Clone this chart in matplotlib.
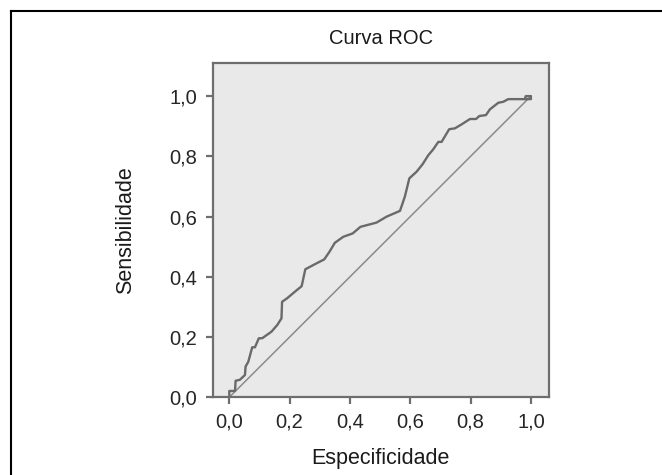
import numpy as np
import matplotlib
matplotlib.use("Agg")
import matplotlib.pyplot as plt
from matplotlib.lines import Line2D

plt.rcParams['font.family'] = ['Liberation Sans', 'DejaVu Sans']

# pontos da curva ROC (1 - especificidade, sensibilidade)
fpr = [0.0, 0.0, 0.019, 0.021, 0.035, 0.052, 0.054, 0.063, 0.076, 0.085,
       0.098, 0.109, 0.140, 0.159, 0.173, 0.175, 0.192, 0.218, 0.240, 0.252,
       0.284, 0.315, 0.332, 0.350, 0.378, 0.409, 0.435, 0.488, 0.522, 0.566,
       0.582, 0.597, 0.621, 0.641, 0.660, 0.676, 0.693, 0.704, 0.729, 0.748,
       0.770, 0.798, 0.818, 0.829, 0.851, 0.864, 0.892, 0.908, 0.925, 0.980,
       0.983, 1.0, 1.0, 0.983]
tpr = [0.0, 0.021, 0.021, 0.055, 0.058, 0.074, 0.102, 0.118, 0.166, 0.166,
       0.196, 0.196, 0.218, 0.240, 0.262, 0.317, 0.329, 0.351, 0.369, 0.425,
       0.442, 0.458, 0.483, 0.513, 0.533, 0.544, 0.566, 0.580, 0.600, 0.619,
       0.666, 0.727, 0.749, 0.774, 0.804, 0.823, 0.848, 0.848, 0.890, 0.893,
       0.906, 0.924, 0.924, 0.934, 0.937, 0.956, 0.978, 0.981, 0.990, 0.990,
       1.0, 1.0, 0.990, 0.990]
ref_line = [0.0, 1.0]

tick_vals = [0.0, 0.2, 0.4, 0.6, 0.8, 1.0]
tick_labels = ['0,0', '0,2', '0,4', '0,6', '0,8', '1,0']

fig = plt.figure(figsize=(6.62, 4.75), dpi=100)
ax = fig.add_axes([0.3213, 0.1636, 0.508, 0.7038])
ax.set_facecolor('#e9e9e9')

ax.plot(ref_line, ref_line, color='#8a8a8a', lw=1.1)
ax.plot(fpr, tpr, color='#6a6a6a', lw=1.7, solid_joinstyle='round')

ax.set_xlim(-0.055, 1.06)
ax.set_ylim(0.0, 1.11)
ax.set_xticks(tick_vals)
ax.set_xticklabels(tick_labels)
ax.set_yticks(tick_vals)
ax.set_yticklabels(tick_labels)

for s in ax.spines.values():
    s.set_color('#6e6e6e')
    s.set_linewidth(1.6)
ax.tick_params(direction='out', length=5, width=1.6, color='#6e6e6e',
               labelsize=14.5, labelcolor='#262626', pad=6)

ax.set_title('Curva ROC', fontsize=14.5, color='#1a1a1a', pad=14)
ax.set_xlabel('Especificidade', fontsize=15.5, color='#1a1a1a', labelpad=12)
ax.set_ylabel('Sensibilidade', fontsize=15.5, color='#1a1a1a', labelpad=24)

# moldura (apenas topo e lado esquerdo)
fig.add_artist(Line2D([11 / 662, 1.0], [1 - 11 / 475, 1 - 11 / 475],
                      transform=fig.transFigure, color='black', lw=1.5))
fig.add_artist(Line2D([11 / 662, 11 / 662], [0.0, 1 - 11 / 475],
                      transform=fig.transFigure, color='black', lw=1.5))

fig.savefig('out.png', dpi=100)
